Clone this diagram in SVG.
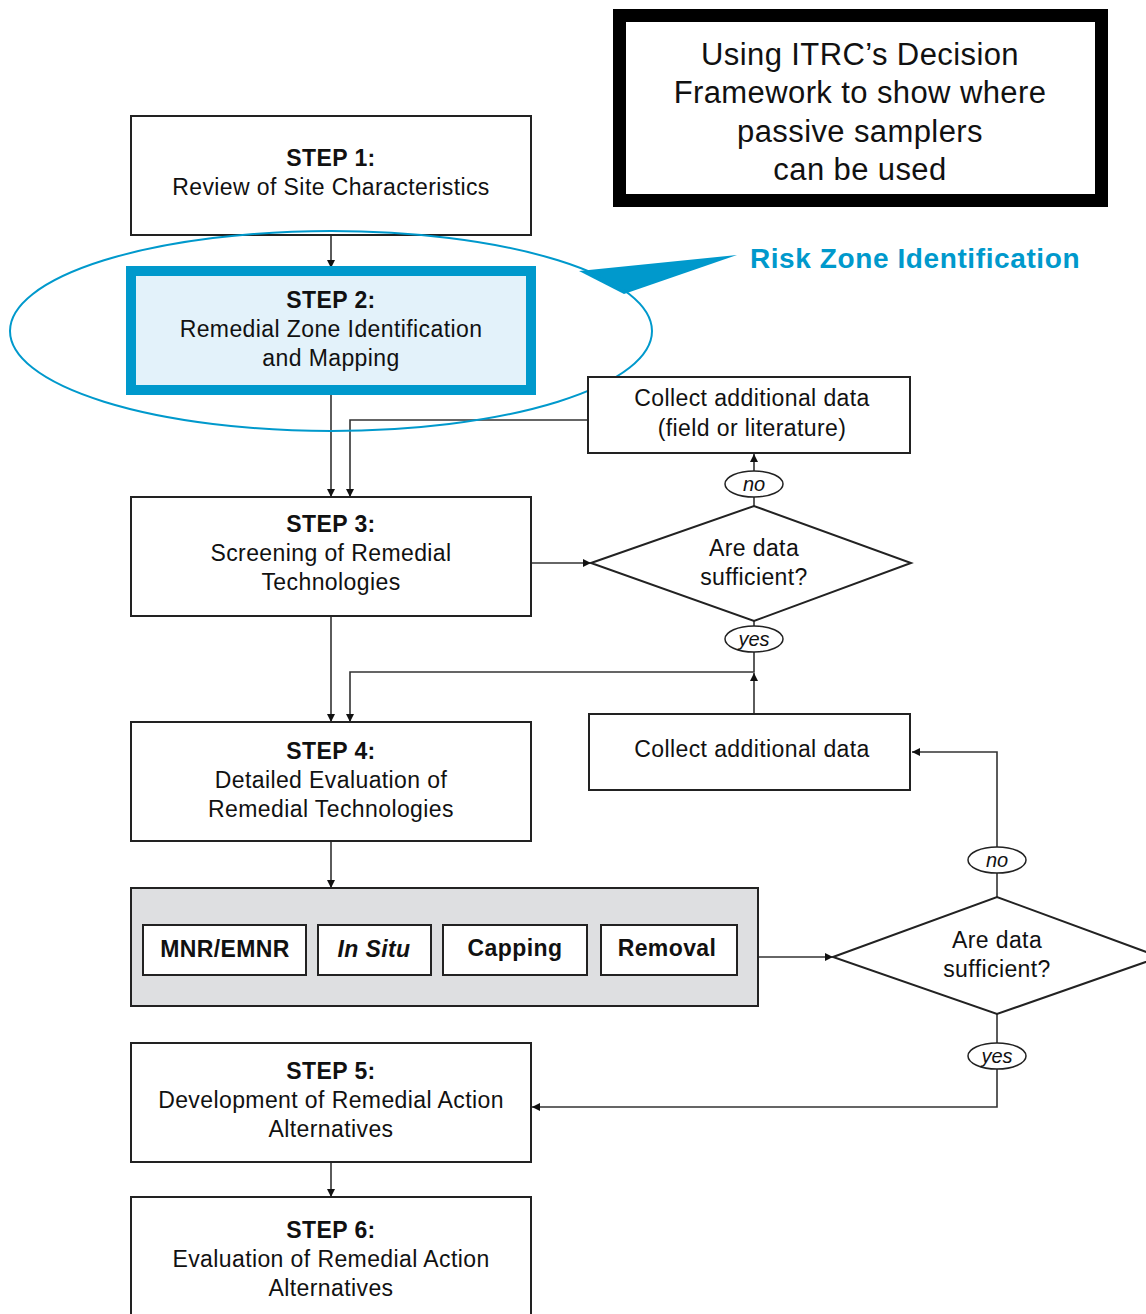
<svg xmlns="http://www.w3.org/2000/svg" width="1146" height="1314" viewBox="0 0 1146 1314">
<defs>
<style>
text{font-family:"Liberation Sans",Arial,sans-serif;fill:#111;text-anchor:middle}
.t{font-size:23px;letter-spacing:0.4px}
.b{font-size:23px;font-weight:bold;letter-spacing:0.4px}
.box{fill:#fff;stroke:#222;stroke-width:2}
.ln{fill:none;stroke:#333;stroke-width:1.6}
.lab{fill:#fff;stroke:#222;stroke-width:1.5}
.it{font-size:20px;font-style:italic}
.ti{font-size:31px;letter-spacing:0.4px}
</style>
<marker id="ah" viewBox="0 0 10 10" refX="10" refY="5" markerWidth="9" markerHeight="8" markerUnits="userSpaceOnUse" orient="auto">
<path d="M0,0 L10,5 L0,10 z" fill="#111"/>
</marker>
</defs>
<rect width="1146" height="1314" fill="#fff"/>

<g id="title">
<rect x="619.5" y="15.5" width="482" height="185" fill="#fff" stroke="#000" stroke-width="13"/>
<text class="ti" x="860" y="65">Using ITRC’s Decision</text>
<text class="ti" x="860" y="103">Framework to show where</text>
<text class="ti" x="860" y="142">passive samplers</text>
<text class="ti" x="860" y="180">can be used</text>
</g>

<g id="risk-zone">
<polygon points="579,271 737,255 624,294" fill="#0099CC"/>
<text x="915" y="268" style="font-size:28px;font-weight:bold;fill:#0099CC;letter-spacing:0.6px">Risk Zone Identification</text>
</g>

<g id="connectors">
<line class="ln" x1="331" y1="235" x2="331" y2="268" marker-end="url(#ah)"/>
<line class="ln" x1="331" y1="395" x2="331" y2="497" marker-end="url(#ah)"/>
<polyline class="ln" points="588,420 350,420 350,497" marker-end="url(#ah)"/>
<line class="ln" x1="531" y1="563" x2="591" y2="563" marker-end="url(#ah)"/>
<line class="ln" x1="754" y1="506" x2="754" y2="454" marker-end="url(#ah)"/>
<polyline class="ln" points="754,621 754,672 350,672 350,722" marker-end="url(#ah)"/>
<line class="ln" x1="754" y1="714" x2="754" y2="673" marker-end="url(#ah)"/>
<line class="ln" x1="331" y1="616" x2="331" y2="722" marker-end="url(#ah)"/>
<line class="ln" x1="331" y1="841" x2="331" y2="888" marker-end="url(#ah)"/>
<line class="ln" x1="758" y1="957" x2="833" y2="957" marker-end="url(#ah)"/>
<polyline class="ln" points="997,897 997,752 912,752" marker-end="url(#ah)"/>
<polyline class="ln" points="997,1014 997,1107 532,1107" marker-end="url(#ah)"/>
<line class="ln" x1="331" y1="1162" x2="331" y2="1197" marker-end="url(#ah)"/>
</g>

<g id="step1">
<rect class="box" x="131" y="116" width="400" height="119"/>
<text class="b" x="331" y="166">STEP 1:</text>
<text class="t" x="331" y="195">Review of Site Characteristics</text>
</g>

<g id="step2">
<rect x="131" y="271" width="400" height="119" fill="#E3F2FA" stroke="#0099CC" stroke-width="10"/>
<text class="b" x="331" y="308">STEP 2:</text>
<text class="t" x="331" y="337">Remedial Zone Identification</text>
<text class="t" x="331" y="366">and Mapping</text>
</g>

<g id="highlight-ellipse">
<ellipse cx="331" cy="331" rx="321" ry="100" fill="none" stroke="#0099CC" stroke-width="2"/>
</g>

<g id="collect1">
<rect class="box" x="588" y="377" width="322" height="76"/>
<text class="t" x="752" y="406">Collect additional data</text>
<text class="t" x="752" y="436">(field or literature)</text>
</g>

<g id="step3">
<rect class="box" x="131" y="497" width="400" height="119"/>
<text class="b" x="331" y="532">STEP 3:</text>
<text class="t" x="331" y="561">Screening of Remedial</text>
<text class="t" x="331" y="590">Technologies</text>
</g>

<g id="decision1">
<polygon class="box" points="591,563 754,506 911,563 754,621"/>
<text class="t" x="754" y="556">Are data</text>
<text class="t" x="754" y="585">sufficient?</text>
<ellipse class="lab" cx="754" cy="484" rx="29" ry="13"/>
<text class="it" x="754" y="491">no</text>
<ellipse class="lab" cx="754" cy="639" rx="29" ry="13"/>
<text class="it" x="754" y="646">yes</text>
</g>

<g id="collect2">
<rect class="box" x="589" y="714" width="321" height="76"/>
<text class="t" x="752" y="757">Collect additional data</text>
</g>

<g id="step4">
<rect class="box" x="131" y="722" width="400" height="119"/>
<text class="b" x="331" y="759">STEP 4:</text>
<text class="t" x="331" y="788">Detailed Evaluation of</text>
<text class="t" x="331" y="817">Remedial Technologies</text>
</g>

<g id="technologies">
<rect x="131" y="888" width="627" height="118" fill="#DEDFE1" stroke="#222" stroke-width="2"/>
<rect class="box" x="143" y="925" width="163" height="50" stroke-width="1.5"/>
<text class="b" x="225" y="957">MNR/EMNR</text>
<rect class="box" x="318" y="925" width="113" height="50" stroke-width="1.5"/>
<text class="b" x="374" y="957" style="font-style:italic">In Situ</text>
<rect class="box" x="443" y="925" width="144" height="50" stroke-width="1.5"/>
<text class="b" x="515" y="956">Capping</text>
<rect class="box" x="601" y="925" width="136" height="50" stroke-width="1.5"/>
<text class="b" x="667" y="956">Removal</text>
</g>

<g id="decision2">
<polygon class="box" points="833,957 997,897 1160,957 997,1014"/>
<text class="t" x="997" y="948">Are data</text>
<text class="t" x="997" y="977">sufficient?</text>
<ellipse class="lab" cx="997" cy="860" rx="29" ry="13"/>
<text class="it" x="997" y="867">no</text>
<ellipse class="lab" cx="997" cy="1056" rx="29" ry="13"/>
<text class="it" x="997" y="1063">yes</text>
</g>

<g id="step5">
<rect class="box" x="131" y="1043" width="400" height="119"/>
<text class="b" x="331" y="1079">STEP 5:</text>
<text class="t" x="331" y="1108">Development of Remedial Action</text>
<text class="t" x="331" y="1137">Alternatives</text>
</g>

<g id="step6">
<rect class="box" x="131" y="1197" width="400" height="130"/>
<text class="b" x="331" y="1238">STEP 6:</text>
<text class="t" x="331" y="1267">Evaluation of Remedial Action</text>
<text class="t" x="331" y="1296">Alternatives</text>
</g>
</svg>
